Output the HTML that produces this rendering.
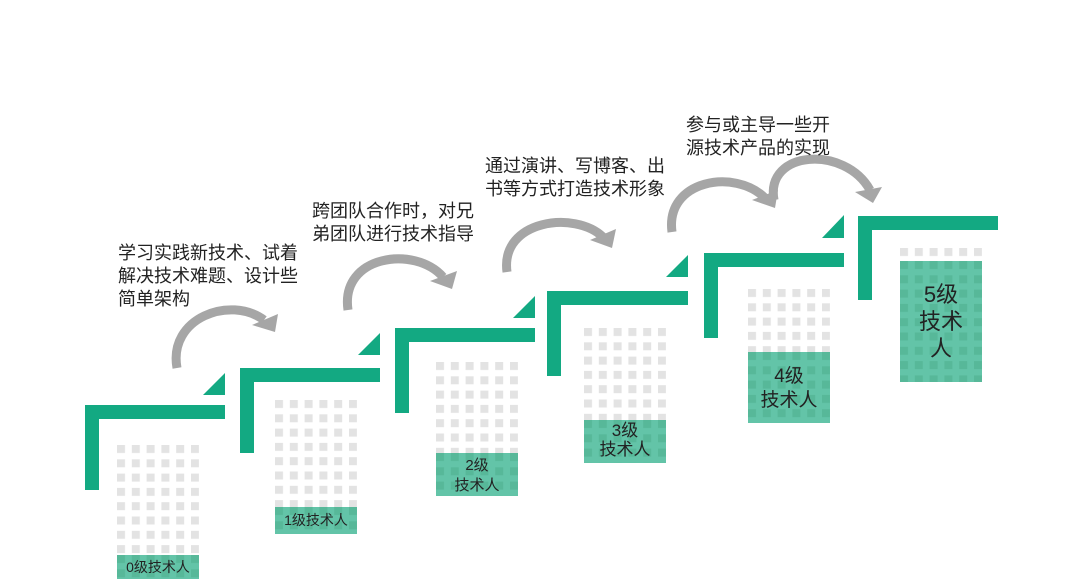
<!DOCTYPE html>
<html><head><meta charset="utf-8"><style>
html,body{margin:0;padding:0;background:#fff;width:1078px;height:579px;overflow:hidden}
svg{display:block}
text{font-family:"Liberation Sans","Noto Sans CJK SC",sans-serif;fill:#222}
</style></head><body>
<svg width="1078" height="579" viewBox="0 0 1078 579" xmlns="http://www.w3.org/2000/svg">
<defs>
<pattern id="g" x="0" y="0" width="14.8" height="14.3" patternUnits="userSpaceOnUse"><rect width="8" height="8" fill="#e3e3e3"/></pattern>
<pattern id="gg" x="0" y="0" width="14.8" height="14.3" patternUnits="userSpaceOnUse"><rect width="14.8" height="14.3" fill="#63c4a8"/><rect width="8" height="8" fill="#57b899"/></pattern>
</defs>
<g fill="#13a982">
<rect x="85" y="405" width="140" height="14"/><rect x="85" y="405" width="14" height="85"/><polygon points="225,373 225,395 203,395"/>
<rect x="240" y="368" width="140" height="14"/><rect x="240" y="368" width="14" height="85"/><polygon points="380,333 380,355 358,355"/>
<rect x="395" y="328" width="140" height="14"/><rect x="395" y="328" width="14" height="85"/><polygon points="535,296 535,318 513,318"/>
<rect x="547" y="291" width="141" height="14"/><rect x="547" y="291" width="14" height="85"/><polygon points="688,255 688,277 666,277"/>
<rect x="704" y="253" width="140" height="14"/><rect x="704" y="253" width="14" height="85"/><polygon points="844,215 844,238 822,238"/>
<rect x="858" y="216" width="140" height="14"/><rect x="858" y="216" width="14" height="84"/>
</g>
<g transform="translate(117,445)"><rect width="82" height="110" fill="url(#g)"/></g>
<g transform="translate(117,555)"><rect width="82" height="24" fill="url(#gg)"/></g>
<g transform="translate(275,400)"><rect width="82" height="107" fill="url(#g)"/></g>
<g transform="translate(275,507)"><rect width="82" height="27" fill="url(#gg)"/></g>
<g transform="translate(436,362)"><rect width="82" height="91" fill="url(#g)"/></g>
<g transform="translate(436,453)"><rect width="82" height="43" fill="url(#gg)"/></g>
<g transform="translate(584,328)"><rect width="82" height="92" fill="url(#g)"/></g>
<g transform="translate(584,420)"><rect width="82" height="43" fill="url(#gg)"/></g>
<g transform="translate(748,289)"><rect width="82" height="63" fill="url(#g)"/></g>
<g transform="translate(748,352)"><rect width="82" height="71" fill="url(#gg)"/></g>
<g transform="translate(900,248)"><rect width="82" height="13" fill="url(#g)"/></g>
<g transform="translate(900,261)"><rect width="82" height="121" fill="url(#gg)"/></g>

<g fill="none" stroke="#a6a6a6" stroke-width="9">
<path d="M177,368 C168,318 230,295 264,320"/>
<path d="M348,310 C340,255 415,245 443,277"/>
<path d="M507,272 C500,220 575,210 603,237"/>
<path d="M672,232 C665,180 735,168 765,198"/>
<path d="M774,200 C765,150 845,145 870,190"/>
</g>
<g fill="#a6a6a6">
<polygon points="278,314 275,332 252,325"/>
<polygon points="457,271 452,289 430,281"/>
<polygon points="616,229 612,248 590,240"/>
<polygon points="778,190 775,208 752,200"/>
<polygon points="882,187 873,203 855,192"/>
</g>

<g font-size="18">
<text x="118" y="259">学习实践新技术、试着</text>
<text x="118" y="282">解决技术难题、设计些</text>
<text x="118" y="305">简单架构</text>
<text x="312" y="217">跨团队合作时，对兄</text>
<text x="312" y="240">弟团队进行技术指导</text>
<text x="485" y="172">通过演讲、写博客、出</text>
<text x="485" y="195">书等方式打造技术形象</text>
<text x="686" y="131">参与或主导一些开</text>
<text x="686" y="154">源技术产品的实现</text>
</g>
<g text-anchor="middle">
<text x="158" y="572" font-size="14">0级技术人</text>
<text x="316" y="525" font-size="14">1级技术人</text>
<text x="477" y="470" font-size="15">2级</text>
<text x="477" y="490" font-size="15">技术人</text>
<text x="625" y="436" font-size="17">3级</text>
<text x="625" y="455" font-size="17">技术人</text>
<text x="789" y="382" font-size="19">4级</text>
<text x="789" y="406" font-size="19">技术人</text>
<text x="941" y="302" font-size="22">5级</text>
<text x="941" y="329" font-size="22">技术</text>
<text x="941" y="356" font-size="22">人</text>
</g>
</svg>
</body></html>
